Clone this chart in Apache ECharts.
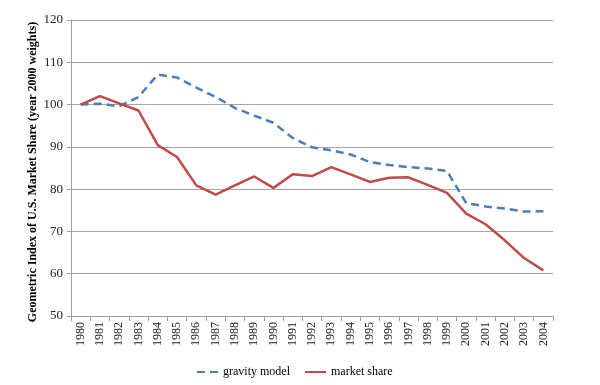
<!DOCTYPE html>
<html>
<head>
<meta charset="utf-8">
<script src="https://cdn.jsdelivr.net/npm/echarts@6/dist/echarts.min.js"></script>
<style>html,body{margin:0;padding:0;background:#fff;}#c{width:600px;height:385px;}</style>
</head>
<body>
<div id="c"></div>
<script>
var years = ['1980','1981','1982','1983','1984','1985','1986','1987','1988','1989','1990','1991','1992','1993','1994','1995','1996','1997','1998','1999','2000','2001','2002','2003','2004'];
var gravityModel = [100, 100.2, 99.6, 101.8, 107.1, 106.4, 104.0, 101.8, 99.2, 97.4, 95.7, 92.1, 89.9, 89.2, 88.2, 86.4, 85.7, 85.2, 84.9, 84.3, 76.7, 75.9, 75.4, 74.7, 74.8];
var marketShare = [100, 102.0, 100.3, 98.6, 90.4, 87.6, 80.9, 78.7, 80.9, 83.0, 80.3, 83.5, 83.1, 85.2, 83.5, 81.7, 82.7, 82.8, 81.0, 79.1, 74.2, 71.7, 67.9, 63.7, 60.8];
var yTitle = 'Geometric Index of U.S. Market Share (year 2000 weights)';

var font = '"Liberation Serif", "Times New Roman", serif';
var chart = echarts.init(document.getElementById('c'));
chart.setOption({
  animation: false,
  backgroundColor: '#ffffff',
  grid: { left: 71, right: 47, top: 20, bottom: 69, containLabel: false },
  legend: {
    top: 361, left: 191,
    itemWidth: 21, itemHeight: 10, itemGap: 14,
    itemStyle: { opacity: 0 },
    textStyle: { fontFamily: font, fontSize: 12, color: '#000' },
    data: ['gravity model', 'market share']
  },
  graphic: [{
    type: 'text',
    x: 33, y: 172,
    rotation: Math.PI / 2,
    style: {
      text: yTitle,
      fontFamily: font, fontSize: 12, fontWeight: 'bold', fill: '#000',
      align: 'center', verticalAlign: 'middle'
    }
  }],
  xAxis: {
    type: 'category',
    data: years,
    boundaryGap: true,
    axisLine: { lineStyle: { color: '#a0a0a0', width: 1 } },
    axisTick: { show: true, length: 5, lineStyle: { color: '#a0a0a0' }, alignWithLabel: false },
    axisLabel: { rotate: 90, interval: 0, fontFamily: font, fontSize: 12, color: '#222', margin: 6 },
    splitLine: { show: false }
  },
  yAxis: {
    type: 'value',
    min: 50, max: 120, interval: 10,
    axisLine: { show: true, lineStyle: { color: '#a0a0a0', width: 1 } },
    axisTick: { show: true, length: 4, lineStyle: { color: '#a0a0a0' } },
    axisLabel: { fontFamily: font, fontSize: 13, color: '#222', margin: 8 },
    splitLine: { show: true, lineStyle: { color: '#a6a6a6', width: 1 } }
  },
  series: [
    {
      name: 'gravity model', type: 'line', data: gravityModel,
      symbol: 'none',
      lineStyle: { color: '#4a7ebb', width: 2.5, type: [8, 5] },
      itemStyle: { color: '#4a7ebb' }
    },
    {
      name: 'market share', type: 'line', data: marketShare,
      symbol: 'none',
      lineStyle: { color: '#be4b48', width: 2.5 },
      itemStyle: { color: '#be4b48' }
    }
  ]
});
</script>
</body>
</html>
